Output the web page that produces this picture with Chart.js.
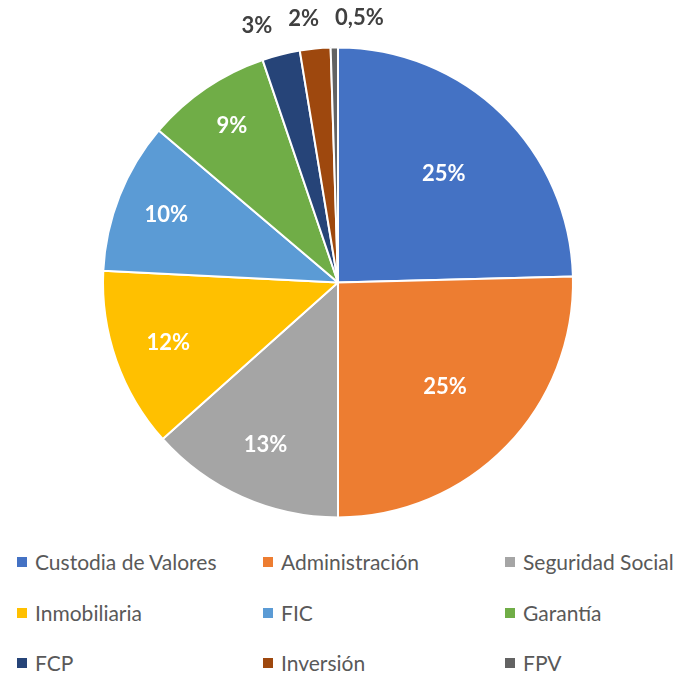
<!DOCTYPE html>
<html>
<head>
<meta charset="utf-8">
<script src="https://cdn.jsdelivr.net/npm/chart.js@4"></script>
<style>
  body { margin: 0; background: #fff; font-family: Lato, "Noto Sans", sans-serif; }
  #wrap { position: relative; width: 679px; height: 673px; overflow: hidden; }
  #legend { position: absolute; left: 0; top: 540px; width: 679px; }
  .item { position: absolute; font-size: 21px; color: #595959; white-space: nowrap; line-height: 24px; }
  .item span.box { position: absolute; left: -18px; top: 7px; width: 10px; height: 10px; }
</style>
</head>
<body>
<div id="wrap">
  <canvas id="pie" width="679" height="540"></canvas>
  <div id="legend"></div>
</div>
<script>
  const categories = ['Custodia de Valores', 'Administración', 'Seguridad Social', 'Inmobiliaria', 'FIC', 'Garantía', 'FCP', 'Inversión', 'FPV'];
  const shares = [24.6, 25.4, 13.4, 12.4, 10.4, 8.6, 2.6, 2.1, 0.5];
  const colors = ['#4472C4', '#ED7D31', '#A5A5A5', '#FFC000', '#5B9BD5', '#70AD47', '#264478', '#9E480E', '#636363'];

  function pctText(v) {
    const t = v < 1 ? v.toFixed(1) : Math.round(v).toString();
    return t.replace('.', ',') + '%';
  }

  // data labels: inside for big slices, outside (spread apart) for tiny ones
  const pieLabels = {
    id: 'pieLabels',
    afterDatasetsDraw(chart) {
      const ctx = chart.ctx;
      const meta = chart.getDatasetMeta(0);
      ctx.save();
      ctx.font = 'bold 22px Lato, "Noto Sans", sans-serif';
      ctx.textBaseline = 'middle';
      ctx.textAlign = 'center';
      const outside = [];
      meta.data.forEach(function(arc, i) {
        const p = arc.getProps(['x', 'y', 'startAngle', 'endAngle', 'outerRadius'], true);
        const mid = (p.startAngle + p.endAngle) / 2;
        const v = shares[i];
        const text = pctText(v);
        if (v >= 5) {
          const d = p.outerRadius * (0.64 + (25 - v) * 0.01);
          ctx.fillStyle = '#ffffff';
          ctx.fillText(text, p.x + Math.cos(mid) * d, p.y + Math.sin(mid) * d);
        } else {
          const d = p.outerRadius + 30;
          outside.push({
            text: text,
            x: p.x + Math.cos(mid) * d,
            y: p.y + Math.sin(mid) * d,
            w: ctx.measureText(text).width
          });
        }
      });
      // push overlapping outside labels apart horizontally
      outside.sort(function(a, b) { return a.x - b.x; });
      for (let k = 0; k < 10; k++) {
        for (let j = 0; j < outside.length - 1; j++) {
          const a = outside[j], b = outside[j + 1];
          const need = a.w / 2 + b.w / 2 + 16;
          const gap = b.x - a.x;
          if (gap < need) {
            const s = (need - gap) / 2;
            a.x -= s;
            b.x += s;
          }
        }
      }
      ctx.fillStyle = '#404040';
      outside.forEach(function(o) { ctx.fillText(o.text, o.x, o.y); });
      ctx.restore();
    }
  };

  new Chart(document.getElementById('pie').getContext('2d'), {
    type: 'pie',
    data: {
      labels: categories,
      datasets: [{
        data: shares,
        backgroundColor: colors,
        borderColor: '#ffffff',
        borderWidth: 2
      }]
    },
    options: {
      responsive: false,
      animation: false,
      layout: { padding: { top: 45, bottom: 20, left: 102, right: 105 } },
      plugins: {
        legend: { display: false },
        tooltip: { enabled: false }
      }
    },
    plugins: [pieLabels]
  });

  // legend in a 3 column grid
  const colX = [35, 281, 523];
  const rowY = [10, 61, 111];
  const legend = document.getElementById('legend');
  categories.forEach(function(name, i) {
    const el = document.createElement('div');
    el.className = 'item';
    el.style.left = colX[i % 3] + 'px';
    el.style.top = rowY[Math.floor(i / 3)] + 'px';
    el.innerHTML = '<span class="box" style="background:' + colors[i] + '"></span>' + name;
    legend.appendChild(el);
  });
</script>
</body>
</html>
